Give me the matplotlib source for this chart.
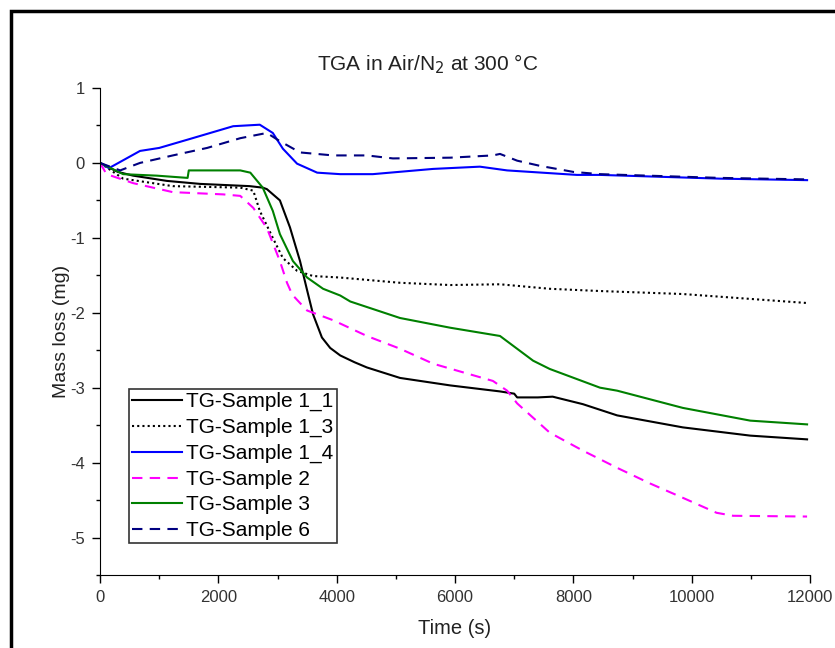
import matplotlib
matplotlib.use("Agg")
import matplotlib.pyplot as plt
from matplotlib.patches import Rectangle
from matplotlib.ticker import MultipleLocator

plt.rcParams['font.family'] = ['Liberation Sans', 'DejaVu Sans']
plt.rcParams['axes.unicode_minus'] = False

# Data (time in s, mass loss in mg)
t_11 = [0, 300, 560, 1130, 1690, 2530, 2750, 2820, 3040, 3210, 3380, 3500, 3600, 3750, 3890, 4060,
        4300, 4510, 5070, 5920, 6760, 7000, 7050, 7400, 7650, 8160, 8740, 9850, 10990, 11950]
m_11 = [0, -0.12, -0.17, -0.24, -0.28, -0.31, -0.33, -0.35, -0.5, -0.86, -1.31, -1.7, -2.02, -2.33, -2.47, -2.57,
        -2.66, -2.73, -2.87, -2.97, -3.05, -3.08, -3.13, -3.13, -3.12, -3.22, -3.37, -3.53, -3.64, -3.69]

t_13 = [0, 390, 1230, 2370, 2590, 2700, 2920, 3090, 3330, 3600, 4060, 5070, 5920, 6760,
        7600, 8450, 9850, 11950]
m_13 = [0, -0.21, -0.31, -0.33, -0.37, -0.64, -1.0, -1.27, -1.44, -1.51, -1.53, -1.6, -1.63, -1.62,
        -1.68, -1.71, -1.75, -1.87]

t_14 = [0, 150, 676, 1000, 1520, 2250, 2700, 2920, 3090, 3330, 3670, 4060, 4610, 5630, 6420,
        6880, 8060, 8450, 10480, 11950]
m_14 = [0, -0.07, 0.16, 0.2, 0.32, 0.49, 0.51, 0.4, 0.19, -0.01, -0.13, -0.15, -0.15, -0.08, -0.05,
        -0.1, -0.16, -0.16, -0.21, -0.23]

t_2 = [0, 110, 560, 1230, 2080, 2370, 2590, 2820, 3040, 3160, 3250, 3380, 3500, 3940, 4510, 5070,
       5630, 6200, 6640, 6880, 7050, 7600, 8160, 8740, 9300, 9850, 10420, 10700, 11950]
m_2 = [0, -0.15, -0.27, -0.39, -0.42, -0.44, -0.6, -0.87, -1.31, -1.6, -1.76, -1.87, -1.97, -2.1, -2.31, -2.48,
       -2.68, -2.81, -2.91, -3.04, -3.21, -3.6, -3.84, -4.07, -4.28, -4.47, -4.67, -4.71, -4.72]

t_3 = [0, 390, 960, 1480, 1500, 2370, 2540, 2750, 2920, 3040, 3260, 3500, 3770, 4060, 4230,
       5070, 5920, 6760, 7320, 7600, 8450, 8740, 9850, 10990, 11950]
m_3 = [0, -0.15, -0.17, -0.2, -0.1, -0.1, -0.13, -0.33, -0.64, -0.95, -1.31, -1.53, -1.68, -1.77, -1.85,
       -2.07, -2.2, -2.31, -2.64, -2.75, -3.0, -3.04, -3.27, -3.44, -3.49]

t_6 = [0, 340, 676, 1230, 1810, 2370, 2820, 3040, 3380, 3940, 4510, 4950, 5920, 6640, 6760,
       7050, 7440, 8000, 8450, 10480, 11950]
m_6 = [0, -0.1, 0.0, 0.1, 0.2, 0.33, 0.4, 0.29, 0.14, 0.1, 0.1, 0.06, 0.07, 0.1, 0.12,
       0.03, -0.04, -0.12, -0.15, -0.2, -0.22]

labels = ["TG-Sample 1_1", "TG-Sample 1_3", "TG-Sample 1_4", "TG-Sample 2", "TG-Sample 3", "TG-Sample 6"]

fig = plt.figure(figsize=(8.35, 6.48), dpi=100)
ax = fig.add_axes([0.1198, 0.1127, 0.8503, 0.7515])

lw = 1.5
ax.plot(t_11, m_11, color="black", lw=lw, label=labels[0])
ax.plot(t_13, m_13, color="black", lw=lw, linestyle=(0, (1, 1.5)), label=labels[1])
ax.plot(t_14, m_14, color="#0000ff", lw=lw, label=labels[2])
ax.plot(t_2, m_2, color="#ff00ff", lw=lw, linestyle=(0, (5, 3.5)), label=labels[3])
ax.plot(t_3, m_3, color="#008000", lw=lw, label=labels[4])
ax.plot(t_6, m_6, color="#000080", lw=lw, linestyle=(0, (5, 3.5)), label=labels[5])

ax.set_xlim(0, 12000)
ax.set_ylim(-5.5, 1)
ax.xaxis.set_major_locator(MultipleLocator(2000))
ax.xaxis.set_minor_locator(MultipleLocator(1000))
ax.yaxis.set_major_locator(MultipleLocator(1))
ax.yaxis.set_minor_locator(MultipleLocator(0.5))
ax.spines["top"].set_visible(False)
ax.spines["right"].set_visible(False)
ax.tick_params(which="major", length=6, width=1, labelsize=12, labelcolor="#333333",
               direction="out", pad=5)
ax.tick_params(which="minor", length=3, width=1, direction="out")

ax.set_xlabel("Time (s)", fontsize=14.5, color="#222222", labelpad=10)
ax.set_ylabel("Mass loss (mg)", fontsize=14, color="#222222", labelpad=0)
fig.text(428 / 835, 1 - 64 / 648, "TGA in Air/N$_2$ at 300 °C", fontsize=15, color="#222222",
         ha="center", va="center")

leg = ax.legend(loc="upper left", bbox_to_anchor=(0.041, 0.382), fontsize=15, frameon=True,
                fancybox=False, edgecolor="black", handlelength=2.4, handletextpad=0.2,
                labelspacing=0.32, borderpad=0.15, borderaxespad=0)
leg.get_frame().set_linewidth(1.2)

# page frame (Origin style), only its top-left edges are inside the picture
fig.patches.append(Rectangle((11 / 835, -0.1), 1.2, 1 - 11 / 648 + 0.1, transform=fig.transFigure,
                             fill=False, edgecolor="black", linewidth=2.5))

fig.savefig("out.png", dpi=100)
